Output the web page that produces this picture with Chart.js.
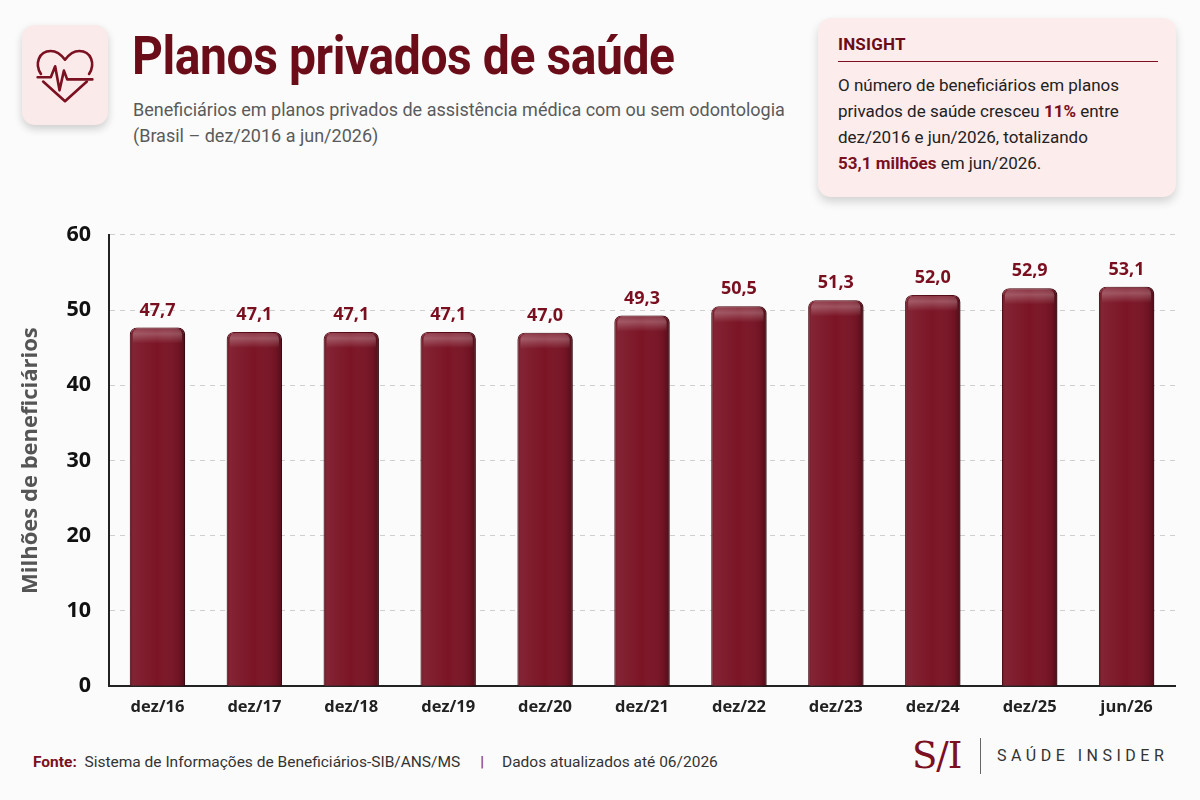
<!DOCTYPE html>
<html lang="pt-BR">
<head>
<meta charset="utf-8">
<title>Planos privados de saúde</title>
<script src="https://cdn.jsdelivr.net/npm/chart.js@4.4.1/dist/chart.umd.min.js"></script>
<style>
  html, body { margin: 0; padding: 0; }
  body {
    width: 1200px; height: 800px; position: relative; overflow: hidden;
    background: #fbfbfb; font-family: Roboto, "Noto Sans", sans-serif;
  }
  .icon {
    position: absolute; left: 22px; top: 25px; width: 86px; height: 100px;
    background: #fbeaea; border-radius: 13px;
    box-shadow: 0 4px 8px rgba(0,0,0,0.18);
  }
  .icon svg { position: absolute; left: 8px; top: 15px; }
  h1 {
    position: absolute; left: 132px; top: 24px; margin: 0;
    font-size: 54px; font-weight: 700; color: #6a0d19; letter-spacing: -0.5px;
    transform: scaleX(0.89); transform-origin: left top; white-space: nowrap;
  }
  .sub {
    position: absolute; left: 133px; top: 97px; margin: 0;
    font-size: 18px; line-height: 26px; color: #5a5a5a; white-space: nowrap;
  }
  .insight {
    position: absolute; left: 818px; top: 18px; width: 358px; height: 179px;
    background: #fcecec; border-radius: 13px; box-sizing: border-box;
    box-shadow: 0 5px 10px rgba(0,0,0,0.16); padding: 16px 18px 0 20px;
  }
  .insight .hd {
    font-size: 17px; font-weight: 700; color: #6a0d19; padding-bottom: 7px;
    border-bottom: 1.5px solid #7a1020; letter-spacing: 0.2px;
  }
  .insight p {
    margin: 10px 0 0 0; font-size: 17px; line-height: 26px; color: #222; white-space: nowrap;
  }
  .insight b { color: #7a1020; }
  #wrap { position: absolute; left: 0; top: 204px; width: 1200px; height: 526px; }
  .foot {
    position: absolute; left: 33px; top: 753px; font-size: 15.5px; color: #333;
    white-space: nowrap;
  }
  .foot b { color: #7a1020; }
  .foot .sep { color: #8a1a28; margin: 0 18px 0 20px; }
  .logo { position: absolute; left: 912px; top: 736px; height: 40px; }
  .logo .si {
    position: absolute; left: 0; top: 0; font-family: "DejaVu Serif", "Liberation Serif", serif;
    font-size: 37px; color: #7a1020; line-height: 40px; letter-spacing: -1px;
  }
  .logo .bar { position: absolute; left: 68px; top: 2px; width: 1px; height: 36px; background: #666; }
  .logo .name {
    position: absolute; left: 85px; top: 10px; font-size: 16px; letter-spacing: 4.5px;
    color: #333; white-space: nowrap;
  }
</style>
</head>
<body>
<div class="icon">
  <svg width="70" height="70" viewBox="0 0 64 64" fill="none" stroke="#7a1020" stroke-width="2.4" stroke-linecap="round" stroke-linejoin="round">
    <path d="M10 31 C4 22 8 10 19 10 C25 10 29 14 32 18 C35 14 39 10 45 10 C56 10 60 22 54 31"/>
    <path d="M12 38 L32 56 L52 38"/>
    <path d="M7 34 H19 L23 24 L27 46 L31 28 L34 36 H57"/>
  </svg>
</div>
<h1>Planos privados de saúde</h1>
<div class="sub">Beneficiários em planos privados de assistência médica com ou sem odontologia<br>(Brasil – dez/2016 a jun/2026)</div>

<div class="insight">
  <div class="hd">INSIGHT</div>
  <p>O número de beneficiários em planos<br>privados de saúde cresceu <b>11%</b> entre<br>dez/2016 e jun/2026, totalizando<br><b>53,1 milhões</b> em jun/2026.</p>
</div>

<div id="wrap"><canvas id="grafico"></canvas></div>

<div class="foot"><b>Fonte:</b>&nbsp; Sistema de Informações de Beneficiários-SIB/ANS/MS<span class="sep">|</span>Dados atualizados até 06/2026</div>
<div class="logo"><span class="si">S/I</span><span class="bar"></span><span class="name">SAÚDE INSIDER</span></div>

<script>
const periodos = ['dez/16', 'dez/17', 'dez/18', 'dez/19', 'dez/20', 'dez/21', 'dez/22', 'dez/23', 'dez/24', 'dez/25', 'jun/26'];
const beneficiarios = [47.7, 47.1, 47.1, 47.1, 47.0, 49.3, 50.5, 51.3, 52.0, 52.9, 53.1];
const ticksY = [0, 10, 20, 30, 40, 50, 60];

const vinho = '#7b1526';
const vinhoTexto = '#7a0f1f';
const fonte = '"Open Sans", Lato, sans-serif';

// sombra atras das barras
const sombraBarras = {
    id: 'sombraBarras',
    beforeDatasetsDraw(chart) {
        const ctx = chart.ctx;
        ctx.save();
        ctx.shadowColor = 'rgba(0,0,0,0.35)';
        ctx.shadowBlur = 7;
        ctx.shadowOffsetX = 3;
        ctx.shadowOffsetY = 1;
    },
    afterDatasetsDraw(chart) {
        chart.ctx.restore();
    }
};

// brilho e rotulos
const brilhoRotulos = {
    id: 'brilhoRotulos',
    afterDatasetsDraw(chart) {
        const ctx = chart.ctx;
        const meta = chart.getDatasetMeta(0);
        const base = chart.scales.y.getPixelForValue(0);
        ctx.save();
        meta.data.forEach(function (bar, i) {
            const w = bar.width;
            const x0 = bar.x - w / 2;
            const g = ctx.createLinearGradient(x0, 0, x0 + w, 0);
            g.addColorStop(0, 'rgba(0,0,0,0.18)');
            g.addColorStop(0.08, 'rgba(255,255,255,0.06)');
            g.addColorStop(0.5, 'rgba(255,255,255,0.0)');
            g.addColorStop(0.88, 'rgba(0,0,0,0.08)');
            g.addColorStop(1, 'rgba(0,0,0,0.35)');
            ctx.fillStyle = g;
            ctx.beginPath();
            ctx.roundRect(x0, bar.y, w, base - bar.y, [7, 7, 0, 0]);
            ctx.fill();

            const t = ctx.createLinearGradient(0, bar.y, 0, bar.y + 16);
            t.addColorStop(0, 'rgba(255,255,255,0.12)');
            t.addColorStop(0.4, 'rgba(255,255,255,0.25)');
            t.addColorStop(1, 'rgba(255,255,255,0)');
            ctx.fillStyle = t;
            ctx.beginPath();
            ctx.roundRect(x0 + 3, bar.y + 1, w - 6, 16, [6, 6, 0, 0]);
            ctx.fill();

            ctx.fillStyle = vinhoTexto;
            ctx.font = 'bold 18px ' + fonte;
            ctx.textAlign = 'center';
            ctx.textBaseline = 'bottom';
            ctx.fillText(beneficiarios[i].toFixed(1).replace('.', ','), bar.x, bar.y - 8);
        });
        ctx.restore();
    }
};

const grafico = new Chart(document.getElementById('grafico').getContext('2d'), {
    type: 'bar',
    data: {
        labels: periodos,
        datasets: [{
            label: 'Milhões de beneficiários',
            data: beneficiarios,
            backgroundColor: vinho,
            borderColor: '#5e0c18',
            borderWidth: 1,
            borderSkipped: 'bottom',
            borderRadius: { topLeft: 7, topRight: 7 },
            categoryPercentage: 1,
            barPercentage: 0.57
        }]
    },
    options: {
        responsive: true,
        maintainAspectRatio: false,
        animation: false,
        layout: { padding: { top: 21, right: 25, left: 14, bottom: 10 } },
        scales: {
            x: {
                grid: { display: false },
                border: { color: '#222', width: 2 },
                ticks: {
                    color: '#222',
                    padding: 3,
                    font: { family: fonte, size: 16.5, weight: 'bold' }
                }
            },
            y: {
                min: 0,
                max: 60,
                afterBuildTicks(axis) {
                    axis.ticks = ticksY.map(v => ({ value: v }));
                },
                grid: { color: '#cfcfcf', drawTicks: false },
                border: { color: '#222', width: 2, dash: [5, 5] },
                ticks: {
                    color: '#111',
                    padding: 18,
                    font: { family: fonte, size: 21.5, weight: 'bold' }
                },
                title: {
                    display: true,
                    text: 'Milhões de beneficiários',
                    color: '#555',
                    padding: { bottom: 4 },
                    font: { family: fonte, size: 22, weight: 'bold' }
                }
            }
        },
        plugins: {
            legend: { display: false },
            tooltip: { enabled: false }
        }
    },
    plugins: [sombraBarras, brilhoRotulos]
});
</script>
</body>
</html>
